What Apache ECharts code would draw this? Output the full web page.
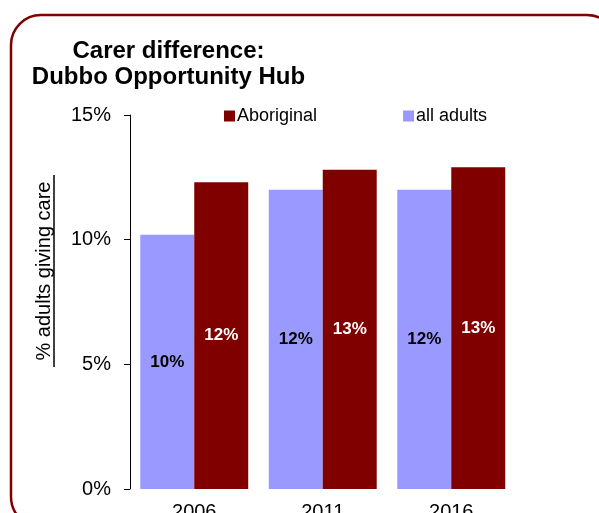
<!DOCTYPE html>
<html>
<head>
<meta charset="utf-8">
<script src="https://cdn.jsdelivr.net/npm/echarts@6/dist/echarts.min.js"></script>
<style>
html,body{margin:0;padding:0;background:#fff;}
#c{width:599px;height:513px;}
</style>
</head>
<body>
<div id="c"></div>
<script>
const categories = ['2006', '2011', '2016'];
const allAdults = [10.2, 12.0, 12.0];
const aboriginal = [12.3, 12.8, 12.9];
const yTicks = [0, 5, 10, 15];

const FONT = '"Liberation Sans", Arial, Helvetica, sans-serif';
const chart = echarts.init(document.getElementById('c'), null, {renderer: 'canvas'});

const labelFmt = p => Math.round(p.value) + '%';

chart.setOption({
  animation: false,
  backgroundColor: '#fff',
  textStyle: {fontFamily: FONT},
  title: {
    text: 'Carer difference:\nDubbo Opportunity Hub',
    left: 168.5,
    top: 38,
    padding: 0,
    textAlign: 'center',
    textStyle: {fontFamily: FONT, fontSize: 24, fontWeight: 'bold', color: '#000', lineHeight: 26}
  },
  legend: {
    data: ['Aboriginal', 'all adults'],
    left: 224,
    top: 107,
    padding: 0,
    itemWidth: 11,
    itemHeight: 11,
    itemGap: 86,
    icon: 'rect',
    textStyle: {fontFamily: FONT, fontSize: 18, color: '#000', padding: [0, 0, 0, -3]}
  },
  grid: {left: 130, right: 83.5, top: 115, bottom: 24, containLabel: false, outerBoundsMode: 'none'},
  xAxis: {
    type: 'category',
    data: categories,
    axisLine: {show: false},
    axisTick: {show: false},
    axisLabel: {fontFamily: FONT, fontSize: 20, color: '#000', margin: 13}
  },
  yAxis: {
    type: 'value',
    min: yTicks[0],
    max: yTicks[yTicks.length - 1],
    interval: 5,
    splitLine: {show: false},
    axisLine: {show: true, lineStyle: {color: '#000', width: 1}},
    axisTick: {show: true, length: 6, lineStyle: {color: '#000'}},
    axisLabel: {fontFamily: FONT, fontSize: 20, color: '#000', margin: 19, formatter: v => v + '%'}
  },
  graphic: [
    {
      type: 'rect',
      silent: true,
      shape: {x: 11, y: 15, width: 606, height: 512, r: 30},
      style: {fill: 'none', stroke: '#800000', lineWidth: 2.5}
    },
    {
      type: 'text',
      x: 44,
      y: 271,
      rotation: Math.PI / 2,
      style: {
        text: '% adults giving care',
        fontFamily: FONT,
        fontSize: 20,
        fill: '#000',
        align: 'center',
        verticalAlign: 'middle'
      }
    },
    {
      type: 'line',
      shape: {x1: 54, y1: 175, x2: 54, y2: 367},
      style: {stroke: '#000', lineWidth: 1.5}
    }
  ],
  series: [
    {
      name: 'all adults',
      type: 'bar',
      data: allAdults,
      barGap: '0%',
      barCategoryGap: '16%',
      itemStyle: {color: '#9999FF'},
      label: {show: true, position: 'inside', formatter: labelFmt, color: '#000', fontWeight: 'bold', fontSize: 17, fontFamily: FONT}
    },
    {
      name: 'Aboriginal',
      type: 'bar',
      data: aboriginal,
      barGap: '0%',
      barCategoryGap: '16%',
      itemStyle: {color: '#800000'},
      label: {show: true, position: 'inside', formatter: labelFmt, color: '#fff', fontWeight: 'bold', fontSize: 17, fontFamily: FONT}
    }
  ]
});
</script>
</body>
</html>
